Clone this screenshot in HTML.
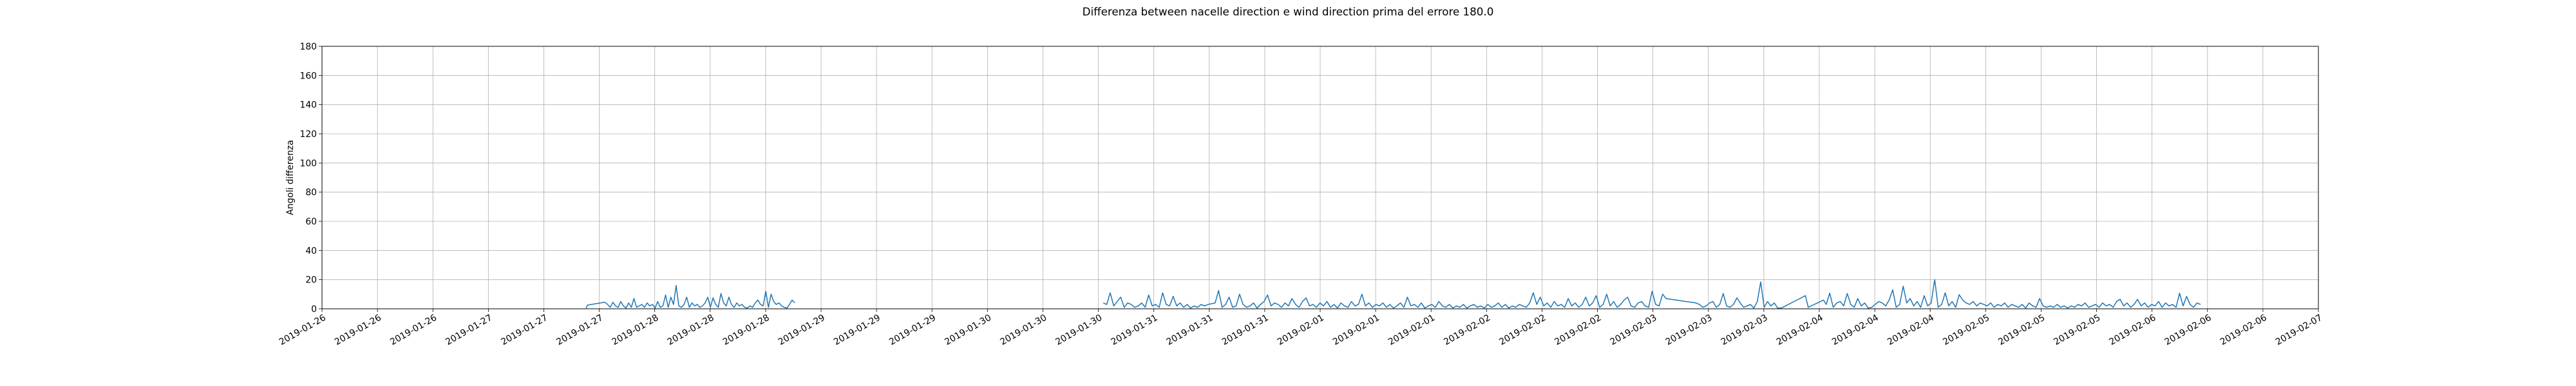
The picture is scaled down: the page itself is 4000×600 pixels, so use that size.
<!DOCTYPE html>
<html><head><meta charset="utf-8"><style>
html,body{margin:0;padding:0;background:#fff;}
svg{display:block;font-family:"DejaVu Sans","Liberation Sans",sans-serif;}
</style></head><body>
<svg id="chart" width="4000" height="600" viewBox="0 0 4000 600" xmlns="http://www.w3.org/2000/svg">
<rect width="4000" height="600" fill="#fff"/>
<text x="2000" y="24" text-anchor="middle" font-size="16.7" fill="#000">Differenza between nacelle direction e wind direction prima del errore 180.0</text>
<text transform="translate(455,276) rotate(-90)" text-anchor="middle" font-size="13.9" fill="#000">Angoli differenza</text>
<g id="grid"></g><g id="series"></g><g id="axes"></g>
</svg>
<script>
// ---- data (hours since 2019-01-26 00:00) ----
const xTickLabels=["2019-01-26","2019-01-26","2019-01-26","2019-01-27","2019-01-27","2019-01-27","2019-01-28","2019-01-28","2019-01-28","2019-01-29","2019-01-29","2019-01-29","2019-01-30","2019-01-30","2019-01-30","2019-01-31","2019-01-31","2019-01-31","2019-02-01","2019-02-01","2019-02-01","2019-02-02","2019-02-02","2019-02-02","2019-02-03","2019-02-03","2019-02-03","2019-02-04","2019-02-04","2019-02-04","2019-02-05","2019-02-05","2019-02-05","2019-02-06","2019-02-06","2019-02-06","2019-02-07"];
const yTicks=[0,20,40,60,80,100,120,140,160,180];
const ramp1Hours=[38.1,38.3,40.8];
const ramp1Values=[0.5,2.5,4.5];
const seg1Range=[41.2,68.2];
const seg1Values=[3,1,4.5,2,1,5,2,0.5,4,1,7,1,2,3,1,4,2,3,0.5,5,1,2,9.5,1,8,3,16,2,1,3,8,1,4,2,3,1,2,4,8,1,7.5,3,1,10.5,4,2,8,3,1,4,2,3,1,0.5,2,1,4,6,3,2,12,1,10,5,3,4,2,1,0.5,3,6,4];
const seg2aRange=[112.7,193.9];
const seg2aValues=[4,3,11,2,5,8,1,4,3,1,2,4,1,9.5,2,3,1,11,3,2,8.5,2,4,1,3,0.5,2,1,3,2,3,3.5,4,12.5,1,3,8,1,2,10,3,1,2,4,0.5,3,5,9.5,2,4,3,1,4,2,7,3,1,5,7.5,2,3,1,4,2,5,1,3,0.5,4,2,1,5,2,3,10,2,4,1,3,2,4,1,3,0.5,2,4,1,8,2,3,1,4,0.5,2,3,1,5,2,1,3,0.5,2,1,3,0.5,2,3,1,2,0.5,3,1,2,4,1,3,0.5,2,1,3,2,1,4,11,3,8,2,4,1,5,2,3,1,7,2,4,1,3,8,2,4,9,1,3,10,2,5,1,3,6,8,2,1,4,5,2,1,12,3,2,10,7];
const ramp2Hours=[198.2];
const ramp2Values=[4];
const seg2bRange=[198.7,210.0];
const seg2bValues=[3,1,2,4,5,1,3,10.5,2,1,3,7.5,4,1,2,3,0.5,5,18.5,1,5,2,4,0.5];
const ramp3Hours=[210.5,214.0,214.4,216.6];
const ramp3Values=[0.5,9,1,6];
const seg2cRange=[217,271];
const seg2cValues=[3,10.7,1,4,5,2,10.5,3,1,7,2,4,0.5,1,3,5,4,2,6,13,1,3,15.5,4,7,2,5,1,9,2,4,20,1,3,11,2,5,1,9.7,6,4,3,5,2,4,3,2,4,1,3,2,4,1,3,2,1,3,0.5,4,2,1,7,2,1,2,1,3,1,2,0.5,2,1,3,2,4,1,2,3,1,4,2,3,1,5,6.5,2,4,1,3,6.5,2,4,1,3,2,5,1,4,2,3,1,10.7,2,8.5,3,1,4,3];

// ---- axes ----
const L=500,R=3600,T=72,B=480,HMAX=288,YMAX=180;
const xs=h=>L+(h/HMAX)*(R-L);
const ys=v=>B-(v/YMAX)*(B-T);
const NS="http://www.w3.org/2000/svg";
function mk(tag,attrs,parent){const e=document.createElementNS(NS,tag);for(const k in attrs)e.setAttribute(k,attrs[k]);parent.appendChild(e);return e;}
const grid=document.getElementById('grid'),axes=document.getElementById('axes'),series=document.getElementById('series');

xTickLabels.forEach((lab,i)=>{
  const x=xs(i*8);
  const g=mk('line',{x1:x,x2:x,y1:T,y2:B,stroke:'#b0b0b0','stroke-width':0.8},grid);
  
  
  const t=mk('line',{x1:x,x2:x,y1:B,y2:B+5,stroke:'#000','stroke-width':0.8},axes);
  
  
  const tx=mk('text',{x:x+2,y:B+8,'font-size':13.9,'text-anchor':'end','dominant-baseline':'hanging',transform:`rotate(-30 ${x+2} ${B+8})`,fill:'#000'},axes);
  tx.textContent=lab;
  
  
});
yTicks.forEach(v=>{
  const y=ys(v);
  const g=mk('line',{x1:L,x2:R,y1:y,y2:y,stroke:'#b0b0b0','stroke-width':0.8},grid);
  
  
  const t=mk('line',{x1:L-5,x2:L,y1:y,y2:y,stroke:'#000','stroke-width':0.8},axes);
  
  
  const tx=mk('text',{x:L-8,y:y+5,'font-size':13.9,'text-anchor':'end',fill:'#000'},axes);
  tx.textContent=String(v);
  
  
});
const frame=mk('rect',{x:L,y:T,width:R-L,height:B-T,fill:'none',stroke:'#000','stroke-width':1},axes);



// ---- series ----
function regular(range,vals){const n=vals.length,st=(range[1]-range[0])/(n-1);return vals.map((v,i)=>[range[0]+i*st,v]);}
function pairs(hs,vs){return hs.map((h,i)=>[h,vs[i]]);}
const line1=[...pairs(ramp1Hours,ramp1Values),...regular(seg1Range,seg1Values)];
const line2=[...regular(seg2aRange,seg2aValues),...pairs(ramp2Hours,ramp2Values),...regular(seg2bRange,seg2bValues),...pairs(ramp3Hours,ramp3Values),...regular(seg2cRange,seg2cValues)];
[line1,line2].forEach(pts=>{
  const d=pts.map((p,i)=>(i?'L':'M')+xs(p[0]).toFixed(1)+','+ys(p[1]).toFixed(1)).join('');
  const p=mk('path',{d:d,fill:'none',stroke:'#1f77b4','stroke-width':1.5,'stroke-linejoin':'round'},series);
  
  
});
</script>
</body></html>
